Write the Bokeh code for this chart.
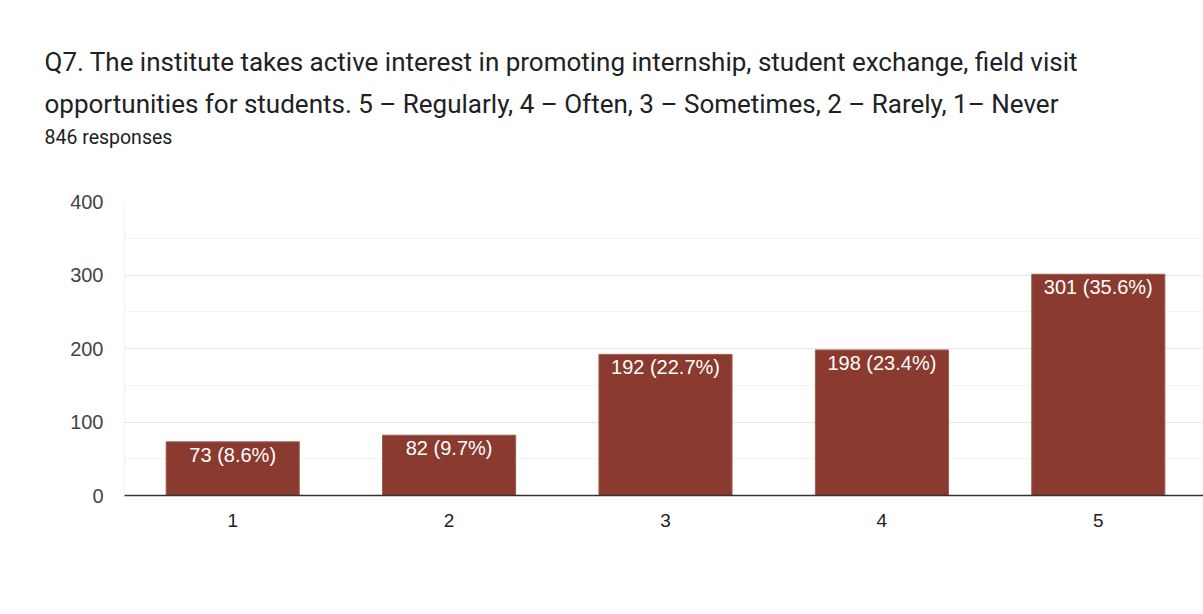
from bokeh.plotting import figure
from bokeh.models import ColumnDataSource, Title, FixedTicker, Range1d, LabelSet
from bokeh.embed import file_html
from bokeh.resources import INLINE
from bokeh.core.properties import value

categories = ["1", "2", "3", "4", "5"]
counts = [73, 82, 192, 198, 301]
percents = ["8.6%", "9.7%", "22.7%", "23.4%", "35.6%"]
y_ticks = [0, 100, 200, 300, 400]

title_line1 = "Q7. The institute takes active interest in promoting internship, student exchange, field visit"
title_line2 = "opportunities for students. 5 \u2013 Regularly, 4 \u2013 Often, 3 \u2013 Sometimes, 2 \u2013 Rarely, 1\u2013 Never"
subtitle = "846 responses"

xs = list(range(1, len(categories) + 1))
labels = [f"{c} ({p})" for c, p in zip(counts, percents)]
src = ColumnDataSource(dict(x=xs, top=counts, label=labels))

p = figure(width=1203, height=614, output_backend="svg", toolbar_location=None,
           x_range=Range1d(0.5, 5.5 - 3 / 216.5), y_range=Range1d(0, 400),
           min_border_left=124, min_border_top=201, min_border_bottom=119, min_border_right=0)
p.outline_line_color = None
p.background_fill_color = "white"
p.border_fill_color = "white"

p.vbar(x="x", top="top", width=0.615, bottom=0, source=src,
       fill_color="#8a3a2e", line_color="#9c5a50", line_width=1)

p.add_layout(LabelSet(x="x", y="top", text="label", source=src,
                      text_align="center", text_baseline="top", y_offset=-2,
                      text_color="white", text_font=value("Liberation Sans"),
                      text_font_size="20px"))

# axes
p.yaxis.ticker = FixedTicker(ticks=y_ticks, minor_ticks=[50, 150, 250, 350])
p.yaxis.axis_line_color = None
p.yaxis.major_tick_line_color = None
p.yaxis.minor_tick_line_color = None
p.yaxis.major_label_text_font = "Liberation Sans"
p.yaxis.major_label_text_font_size = "20px"
p.yaxis.major_label_text_color = "#444444"
p.yaxis.major_label_standoff = 15

p.xaxis.ticker = FixedTicker(ticks=xs)
p.xaxis.major_label_overrides = {x: c for x, c in zip(xs, categories)}
p.xaxis.axis_line_color = "#333333"
p.xaxis.axis_line_width = 1.5
p.xaxis.major_tick_line_color = None
p.xaxis.minor_tick_line_color = None
p.xaxis.major_label_text_font = "Liberation Sans"
p.xaxis.major_label_text_font_size = "19px"
p.xaxis.major_label_text_color = "#222222"
p.xaxis.major_label_standoff = 12

p.xgrid.grid_line_color = None
p.ygrid.grid_line_color = "#e6e6e6"
p.ygrid.minor_grid_line_color = "#f3f3f3"

# left border line of plot area
p.segment(x0=[0.5], y0=[0], x1=[0.5], y1=[400], line_color="#e6e6e6", line_width=1)

# titles: first added sits closest to the plot (first one is an empty spacer)
p.add_layout(Title(text=" ", align="left", standoff=40,
                   text_font="Roboto", text_font_size="10px", text_color="white"), "above")
p.add_layout(Title(text=subtitle, align="left", offset=-80, standoff=0,
                   text_font="Roboto", text_font_size="19.5px", text_font_style="normal",
                   text_color="#202124"), "above")
p.add_layout(Title(text=title_line2, align="left", offset=-80, standoff=10,
                   text_font="Roboto", text_font_size="26px", text_font_style="normal",
                   text_color="#202124"), "above")
p.add_layout(Title(text=title_line1, align="left", offset=-80, standoff=9,
                   text_font="Roboto", text_font_size="26px", text_font_style="normal",
                   text_color="#202124"), "above")

open("out.html", "w").write(file_html(p, INLINE))
